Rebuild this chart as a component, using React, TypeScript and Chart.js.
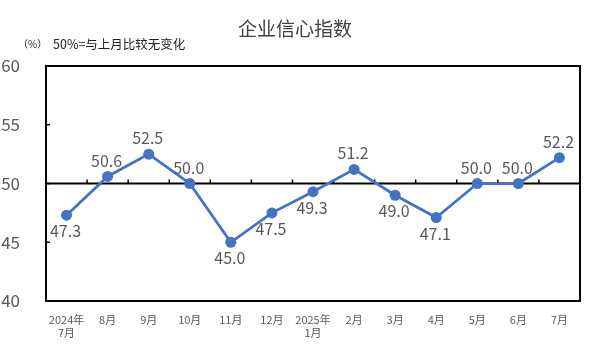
import React, { useEffect, useRef } from "react";
import { Chart, registerables } from "chart.js";

Chart.register(...registerables);

const categories: (string | string[])[] = [
  ["2024年", "7月"], "8月", "9月", "10月", "11月", "12月", ["2025年", "1月"],
  "2月", "3月", "4月", "5月", "6月", "7月",
];
const values = [47.3, 50.6, 52.5, 50.0, 45.0, 47.5, 49.3, 51.2, 49.0, 47.1, 50.0, 50.0, 52.2];
const labelPos = ["below", "above", "above", "above", "below", "below", "below", "above", "below", "below", "above", "above", "above"];
const yTicks = [40, 45, 50, 55, 60];
const titleText = "企业信心指数";
const unitText = "（%）";
const noteText = "50%=与上月比较无变化";

const FONT = "'Noto Sans CJK SC', 'Noto Sans', sans-serif";

const decorPlugin = {
  id: "decor",
  beforeDatasetsDraw(chart: any) {
    const { ctx, chartArea } = chart;
    const x = chart.scales.x;
    const y = chart.scales.y;
    ctx.save();
    ctx.strokeStyle = "#000";
    ctx.lineWidth = 2;
    ctx.strokeRect(chartArea.left, chartArea.top, chartArea.right - chartArea.left, chartArea.bottom - chartArea.top);
    const y50 = y.getPixelForValue(50);
    ctx.beginPath();
    ctx.moveTo(chartArea.left, y50);
    ctx.lineTo(chartArea.right, y50);
    ctx.stroke();
    ctx.lineWidth = 1.5;
    yTicks.forEach((v) => {
      const py = y.getPixelForValue(v);
      ctx.beginPath();
      ctx.moveTo(chartArea.left, py);
      ctx.lineTo(chartArea.left + 4, py);
      ctx.stroke();
    });
    for (let i = 1; i < categories.length; i++) {
      const px = (x.getPixelForValue(i - 1) + x.getPixelForValue(i)) / 2;
      ctx.beginPath();
      ctx.moveTo(px, y50);
      ctx.lineTo(px, y50 - 4);
      ctx.stroke();
    }
    ctx.restore();
  },
  afterDraw(chart: any) {
    const { ctx } = chart;
    const x = chart.scales.x;
    const y = chart.scales.y;
    ctx.save();
    ctx.fillStyle = "#404040";
    ctx.font = `19px ${FONT}`;
    ctx.textAlign = "center";
    ctx.textBaseline = "middle";
    ctx.fillText(titleText, 295, 29);
    ctx.fillStyle = "#222";
    ctx.textAlign = "left";
    ctx.font = `10px ${FONT}`;
    ctx.fillText(unitText, 18, 44);
    ctx.font = `12.5px ${FONT}`;
    ctx.fillText(noteText, 53, 44);
    ctx.fillStyle = "#595959";
    ctx.font = `16px ${FONT}`;
    ctx.textAlign = "center";
    values.forEach((v, i) => {
      const px = x.getPixelForValue(i);
      const py = y.getPixelForValue(v);
      const dy = labelPos[i] === "above" ? -16 : 16;
      ctx.fillText(v.toFixed(1), px - 1, py + dy);
    });
    ctx.restore();
  },
};

export default function App() {
  const ref = useRef<HTMLCanvasElement | null>(null);
  useEffect(() => {
    if (!ref.current) return;
    const chart = new Chart(ref.current, {
      type: "line",
      data: {
        labels: categories,
        datasets: [
          {
            data: values,
            borderColor: "#4472C4",
            backgroundColor: "#4472C4",
            borderWidth: 2.75,
            pointRadius: 5.5,
            pointHoverRadius: 5.5,
            pointBackgroundColor: "#4472C4",
            pointBorderWidth: 0,
            tension: 0,
          },
        ],
      },
      options: {
        responsive: false,
        animation: false,
        events: [],
        layout: { padding: { left: 0, right: 11, top: 66, bottom: 0 } },
        plugins: {
          legend: { display: false },
          tooltip: { enabled: false },
          title: { display: false },
        },
        scales: {
          x: {
            type: "category",
            offset: true,
            grid: { display: false },
            border: { display: false },
            ticks: {
              color: "#595959",
              font: { family: FONT, size: 11 },
              padding: 4,
              maxRotation: 0,
              autoSkip: false,
            },
            afterFit: (s: any) => {
              s.height = 53;
            },
          },
          y: {
            min: 40,
            max: 60,
            grid: { display: false },
            border: { display: false },
            ticks: {
              stepSize: 5,
              color: "#595959",
              font: { family: FONT, size: 17 },
              padding: 18,
            },
            afterFit: (s: any) => {
              s.width = 46;
            },
          },
        },
      },
      plugins: [decorPlugin],
    });
    return () => chart.destroy();
  }, []);
  return (
    <div style={{ position: "fixed", left: 0, top: 0, width: 591, height: 354, background: "#fff" }}>
      <canvas ref={ref} width={591} height={354} style={{ display: "block" }} />
    </div>
  );
}
